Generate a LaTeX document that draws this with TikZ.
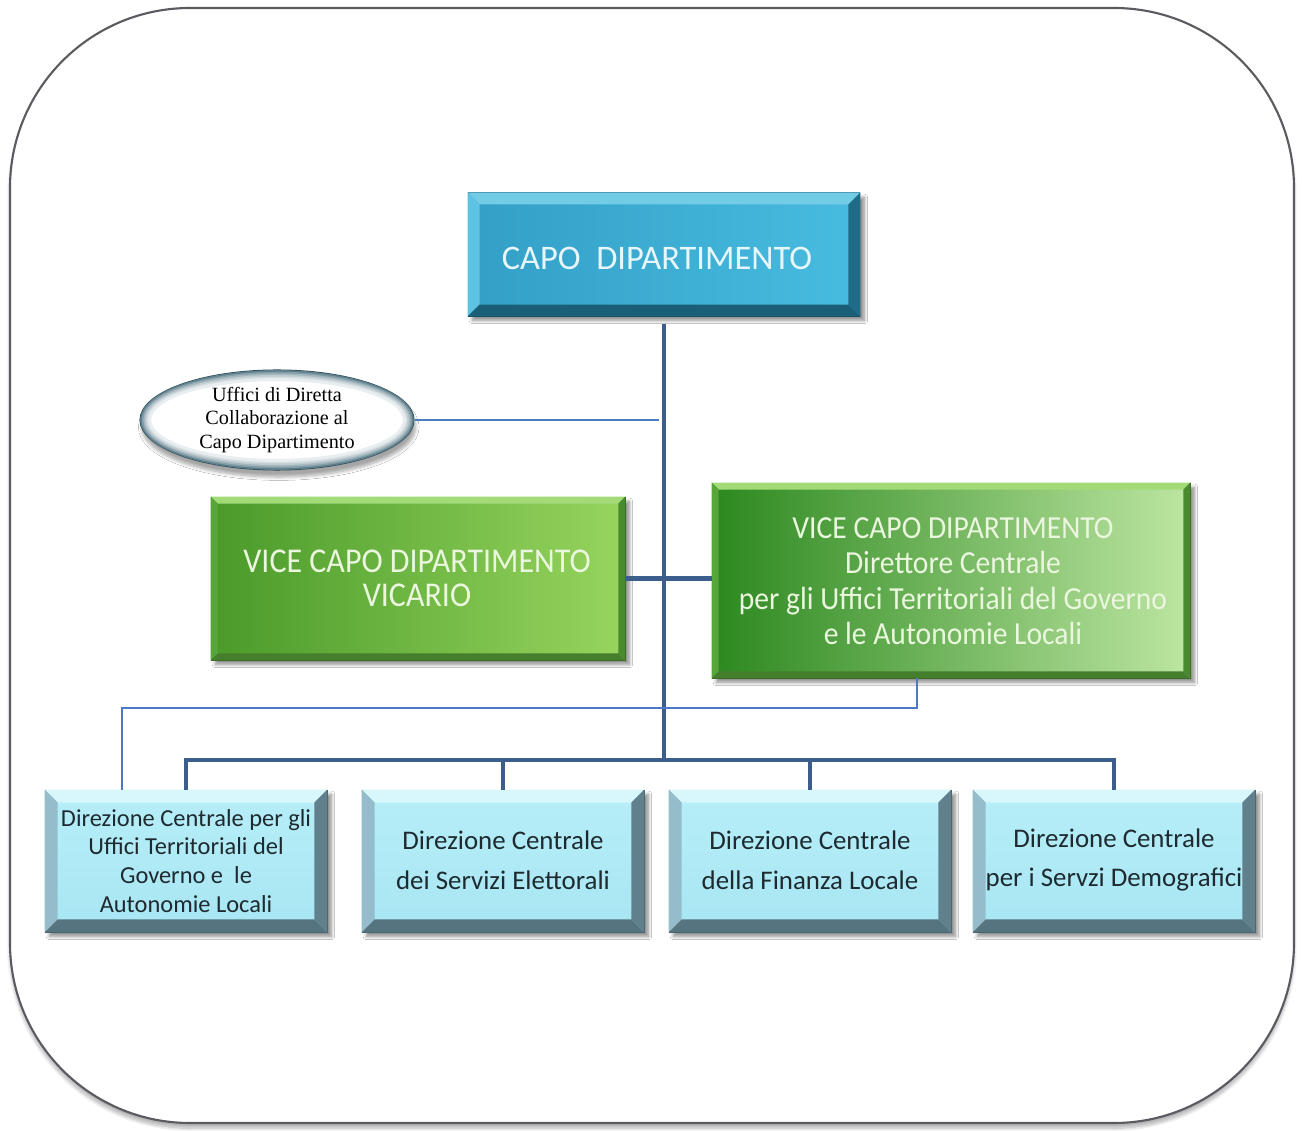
\documentclass[tikz,border=0pt]{standalone}
\usepackage{fontspec}
\setmainfont{Carlito}
\newfontfamily\ellfont{Liberation Serif}
\newfontfamily\narrowfont[FakeStretch=0.92]{Carlito}
\usetikzlibrary{shadows.blur,calc,shapes.geometric}

\definecolor{framecol}{HTML}{5A5A60}
\definecolor{trunkcol}{HTML}{3B5E8C}
\definecolor{linkcol}{HTML}{4A7CC0}
\definecolor{thincol}{HTML}{4B79C8}
% top box
\definecolor{capoL}{HTML}{339FC6}
\definecolor{capoR}{HTML}{48BCE0}
\definecolor{capoTop}{HTML}{72CCE6}
\definecolor{capoLeft}{HTML}{5EC3E2}
\definecolor{capoRight}{HTML}{1F6C88}
\definecolor{capoBot}{HTML}{1A5E78}
\definecolor{capoText}{HTML}{E6F6FB}
% green boxes
\definecolor{grL}{HTML}{4A9A2A}
\definecolor{grM}{HTML}{7CC24C}
\definecolor{grR}{HTML}{97D55E}
\definecolor{gvL}{HTML}{2C881F}
\definecolor{gvM}{HTML}{5DB53C}
\definecolor{gvR}{HTML}{BDE6A2}
\definecolor{grTop}{HTML}{A3DB78}
\definecolor{grLeft}{HTML}{58A63A}
\definecolor{grRight}{HTML}{4A8A2E}
\definecolor{grBot}{HTML}{457E2C}
\definecolor{grText}{HTML}{EAF6DE}
% light boxes
\definecolor{dcFace}{HTML}{B6EEF8}
\definecolor{dcFace2}{HTML}{A8E6F3}
\definecolor{dcTop}{HTML}{D8F7FC}
\definecolor{dcLeft}{HTML}{94BCCB}
\definecolor{dcRight}{HTML}{5F808C}
\definecolor{dcBot}{HTML}{56747F}
\definecolor{dcText}{HTML}{1E2A30}
% ellipse ring
\definecolor{ringdark}{HTML}{3F6676}

% bevelled edges drawn inside a rectangular node
\newcommand\bevel[6]{%
  \fill[#3] (#1.north west) -- (#1.north east) -- ($(#1.north east)+(-#2,#2)$) -- ($(#1.north west)+(#2,#2)$) -- cycle;
  \fill[#4] (#1.north west) -- (#1.south west) -- ($(#1.south west)+(#2,-#2)$) -- ($(#1.north west)+(#2,#2)$) -- cycle;
  \fill[#5] (#1.north east) -- (#1.south east) -- ($(#1.south east)+(-#2,-#2)$) -- ($(#1.north east)+(-#2,#2)$) -- cycle;
  \fill[#6] (#1.south west) -- (#1.south east) -- ($(#1.south east)+(-#2,-#2)$) -- ($(#1.south west)+(#2,-#2)$) -- cycle;
}

\tikzset{
  boxshadow/.style={blur shadow={shadow xshift=2.5pt, shadow yshift=-2.5pt, shadow blur steps=6, shadow opacity=45}},
  capobox/.style={rectangle, inner sep=0pt, minimum width=7.84cm, minimum height=2.46cm,
    left color=capoL, right color=capoR, draw=capoBot!70!black, line width=0.6pt, boxshadow},
  greenbox/.style={rectangle, inner sep=0pt, draw=grBot!80!black, line width=0.5pt, boxshadow},
  dirbox/.style={rectangle, inner sep=0pt, minimum width=5.64cm, minimum height=2.84cm,
    top color=dcFace, bottom color=dcFace2, draw=dcBot!80!black, line width=0.5pt, boxshadow},
  ellbox/.style={ellipse, inner sep=0pt, minimum width=5.48cm, minimum height=2cm,
    fill=white, draw=ringdark!70!black, line width=0.6pt,
    blur shadow={shadow xshift=1pt, shadow yshift=-4pt, shadow blur steps=6, shadow opacity=35}},
  elltext/.style={font=\ellfont\fontsize{11.5}{13.6}\selectfont, align=center},
  capotext/.style={text=capoText, font=\fontsize{19.6}{22}\selectfont},
  greentext/.style={text=grText, align=center},
  dirtext/.style={text=dcText, align=center, font=\fontsize{15.3}{22.7}\selectfont},
  trunk/.style={draw=trunkcol, line width=2.4pt},
  link/.style={draw=linkcol, line width=1.6pt},
  thinlink/.style={draw=thincol, line width=1.1pt},
}

\begin{document}
\begin{tikzpicture}[x=0.02cm, y=-0.02cm]
  \useasboundingbox (0,0) rectangle (1303,1131);

  % outer frame
  \draw[framecol, line width=1.2pt, rounded corners=3.6cm, fill=white,
    blur shadow={shadow xshift=0pt, shadow yshift=-3pt, shadow blur steps=8, shadow opacity=30}]
    (10,8) rectangle (1294,1123);

  % top box
  \node[capobox] (capo) at (664,254.5) {};
  \bevel{capo}{12}{capoTop}{capoLeft}{capoRight}{capoBot}
  \node[capotext] (capotxt) at (657,258) {CAPO\ \ DIPARTIMENTO};

  % green boxes
  \node[greenbox, minimum width=8.28cm, minimum height=3.26cm, left color=grL, middle color=grM, right color=grR] (vicario) at (418,578.5) {};
  \bevel{vicario}{7}{grTop}{grLeft}{grRight}{grBot}
  \node[greentext, font=\narrowfont\fontsize{19.8}{19.3}\selectfont] (vicariotxt) at (417,578) {VICE CAPO DIPARTIMENTO\\VICARIO};

  \node[greenbox, minimum width=9.56cm, minimum height=3.9cm, left color=gvL, middle color=gvM, right color=gvR] (vice) at (951,580.5) {};
  \bevel{vice}{7}{grTop}{grLeft}{grRight}{grBot}
  \node[greentext, font=\narrowfont\fontsize{18.3}{20.2}\selectfont] (vicetxt) at (953,581) {VICE CAPO DIPARTIMENTO\\Direttore Centrale\\per gli Uffici Territoriali del Governo\\e le Autonomie Locali};

  % side ellipse with a soft inner ring
  \node[ellbox] (uffici) at (277,420) {};
  \foreach \i/\c in {1/85,2/65,3/48,4/34,5/22,6/12}
    \draw[ringdark!\c, line width=1.7pt] (uffici.center) ellipse [x radius=137-1.6*\i, y radius=50-1.6*\i];
  \node[elltext] (ufficitxt) at (uffici.center) {Uffici di Diretta\\Collaborazione al\\Capo Dipartimento};

  % bottom boxes
  \node[dirbox] (d1) at (186,861) {};
  \node[dirbox] (d2) at (503,861) {};
  \node[dirbox] (d3) at (810,861) {};
  \node[dirbox] (d4) at (1114,861) {};
  \foreach \n in {d1,d2,d3,d4} {\bevel{\n}{13}{dcTop}{dcLeft}{dcRight}{dcBot}}
  \node[dirtext, font=\fontsize{13.9}{16.4}\selectfont] (d1txt) at (186,861)
    {Direzione Centrale per gli\\Uffici Territoriali del\\Governo e\ \ le\\Autonomie Locali};
  \node[dirtext] (d2txt) at (503,860) {Direzione Centrale\\dei Servizi Elettorali};
  \node[dirtext] (d3txt) at (810,860) {Direzione Centrale\\della Finanza Locale};
  \node[dirtext] (d4txt) at (1114,860) {Direzione Centrale\\per i Servzi Demografici};

  % connectors
  \coordinate (bus) at (664,760);
  \coordinate (branch) at (0,708);
  \draw[trunk] ([yshift=-4pt]capo.south) -- (capo.south |- bus);
  \draw[trunk] (d1.north) -- (d1.north |- bus) -- (d4.north |- bus) -- (d4.north);
  \draw[trunk] (d2.north) -- (d2.north |- bus);
  \draw[trunk] (d3.north) -- (d3.north |- bus);
  \draw[trunk] (vicario.east) -- (vicario.east -| vice.west);
  \draw[link] (uffici.east) -- ([xshift=-3pt]uffici.east -| capo.south);
  \coordinate (vfoot) at ($(vice.south)+(-34,0)$);
  \coordinate (dhead) at ($(d1.north west)+(77,0)$);
  \draw[thinlink] (vfoot) -- (vfoot |- branch) -- (dhead |- branch) -- (dhead);
\end{tikzpicture}
\end{document}
